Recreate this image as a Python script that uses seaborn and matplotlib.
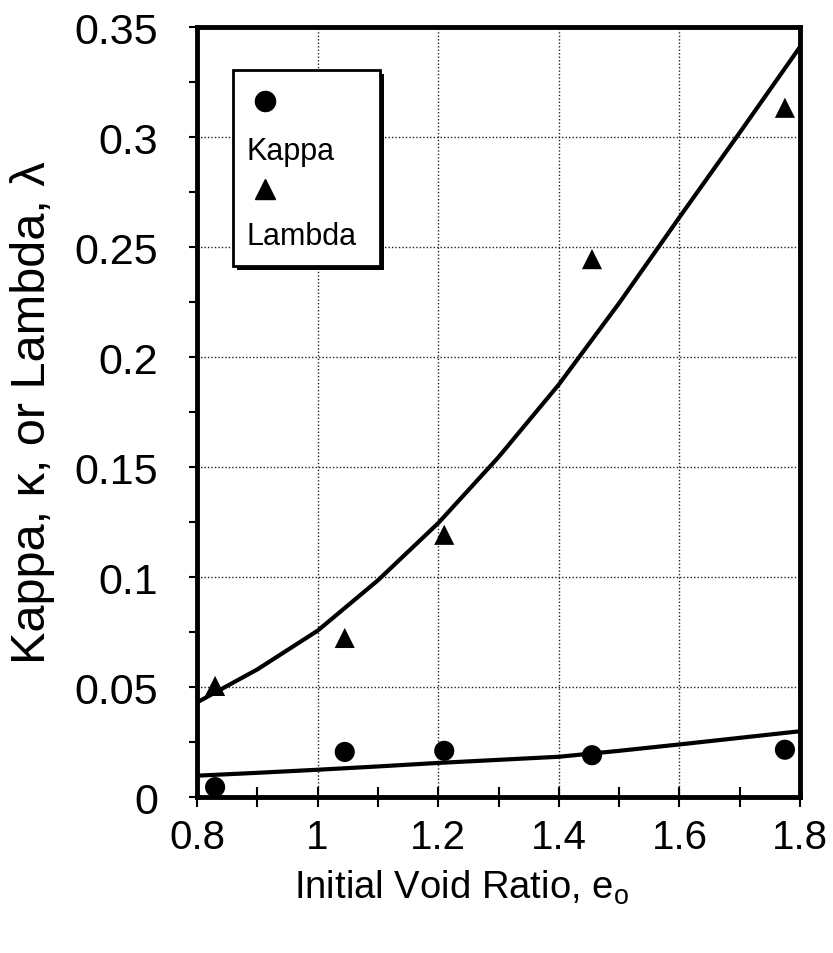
import numpy as np
import matplotlib
matplotlib.use("Agg")
import matplotlib.pyplot as plt
from matplotlib.patches import Rectangle
from matplotlib.ticker import MultipleLocator, FixedLocator, FixedFormatter
import seaborn as sns

# Measured compression indices versus initial void ratio
void_ratio = [0.83, 1.045, 1.21, 1.455, 1.775]
kappa = [0.0045, 0.0205, 0.021, 0.019, 0.0215]
lambda_ = [0.0505, 0.0723, 0.1192, 0.2445, 0.3133]

# Trend curves
curve_e = [0.8, 0.9, 1.0, 1.1, 1.2, 1.3, 1.4, 1.5, 1.6, 1.7, 1.8]
kappa_curve = [0.0097, 0.0110, 0.0124, 0.0139, 0.0155, 0.0169, 0.0183,
               0.0210, 0.0239, 0.0269, 0.0299]
lambda_curve = [0.043, 0.058, 0.0756, 0.0985, 0.1245, 0.1545, 0.1875,
                0.2245, 0.2635, 0.302, 0.341]

x_ticks = [0.8, 1.0, 1.2, 1.4, 1.6, 1.8]
x_tick_labels = ["0.8", "1", "1.2", "1.4", "1.6", "1.8"]
y_ticks = [0, 0.05, 0.1, 0.15, 0.2, 0.25, 0.3, 0.35]
y_tick_labels = ["0", "0.05", "0.1", "0.15", "0.2", "0.25", "0.3", "0.35"]
legend_labels = ["Kappa", "Lambda"]

sns.set_style("white")
plt.rcParams["font.family"] = ["Liberation Sans", "DejaVu Sans"]
plt.rcParams["mathtext.fontset"] = "custom"
plt.rcParams["mathtext.rm"] = "Liberation Sans"
plt.rcParams["text.color"] = "black"
plt.rcParams["axes.labelcolor"] = "black"
plt.rcParams["xtick.color"] = "black"
plt.rcParams["ytick.color"] = "black"

fig = plt.figure(figsize=(8.33, 9.54), dpi=100)
ax = fig.add_axes([0.2365, 0.1635, 0.7239, 0.8071])

sns.lineplot(x=curve_e, y=lambda_curve, color="black", lw=3, ax=ax,
             legend=False, zorder=3)
sns.lineplot(x=curve_e, y=kappa_curve, color="black", lw=3, ax=ax,
             legend=False, zorder=3)
sns.scatterplot(x=void_ratio, y=kappa, marker="o", s=210, color="black",
                edgecolor="none", ax=ax, legend=False, zorder=4)
sns.scatterplot(x=void_ratio, y=lambda_, marker="^", s=210, color="black",
                edgecolor="none", ax=ax, legend=False, zorder=4)

ax.set_xlim(0.8, 1.8)
ax.set_ylim(0, 0.35)

ax.xaxis.set_major_locator(FixedLocator(x_ticks))
ax.xaxis.set_major_formatter(FixedFormatter(x_tick_labels))
ax.yaxis.set_major_locator(FixedLocator(y_ticks))
ax.yaxis.set_major_formatter(FixedFormatter(y_tick_labels))
ax.xaxis.set_minor_locator(MultipleLocator(0.1))
ax.yaxis.set_minor_locator(MultipleLocator(0.025))

ax.tick_params(axis="x", which="both", direction="inout", length=14,
               width=1.5, color="black", labelcolor="black", bottom=True)
ax.tick_params(axis="x", which="major", labelsize=29, pad=8)
ax.tick_params(axis="y", which="both", direction="out", length=6,
               width=1.5, color="black", labelcolor="black", left=True)
ax.tick_params(axis="y", which="major", labelsize=31, pad=22)

ax.grid(True, which="major", color="#222222", lw=1.0,
        linestyle=(0, (1, 1.5)))
ax.set_axisbelow(True)

for side in ["left", "right", "top", "bottom"]:
    ax.spines[side].set_visible(True)
    ax.spines[side].set_color("black")
    ax.spines[side].set_linewidth(3.5)

ax.set_xlabel("Initial Void Ratio, e$_\\mathregular{o}$", fontsize=27.5,
              color="black")
ax.xaxis.label.set_verticalalignment("baseline")
ax.xaxis.set_label_coords(0.438, -0.131)

ax.set_ylabel("Kappa, \u03ba, or Lambda, \u03bb", fontsize=35, color="black")
ax.yaxis.label.set_verticalalignment("center")
ax.yaxis.set_label_coords(-0.273, 0.5)

# Legend box with drop shadow, markers stacked above their labels
bx, by, bw, bh = 0.0597, 0.690, 0.2438, 0.2546
ax.add_patch(Rectangle((bx + 0.0066, by - 0.0052), bw, bh,
                       transform=ax.transAxes, facecolor="black",
                       edgecolor="none", zorder=6))
ax.add_patch(Rectangle((bx, by), bw, bh, transform=ax.transAxes,
                       facecolor="white", edgecolor="black", lw=2, zorder=7))
ax.plot([0.1128], [0.9044], marker="o", ms=14.5, color="black",
        transform=ax.transAxes, zorder=8, clip_on=False)
ax.plot([0.1128], [0.7896], marker="^", ms=14.5, color="black",
        transform=ax.transAxes, zorder=8, clip_on=False)
ax.text(0.0824, 0.8394, legend_labels[0], transform=ax.transAxes,
        fontsize=22, ha="left", va="center", color="black", zorder=8)
ax.text(0.0824, 0.7286, legend_labels[1], transform=ax.transAxes,
        fontsize=22, ha="left", va="center", color="black", zorder=8)

fig.savefig("out.png", dpi=100)
